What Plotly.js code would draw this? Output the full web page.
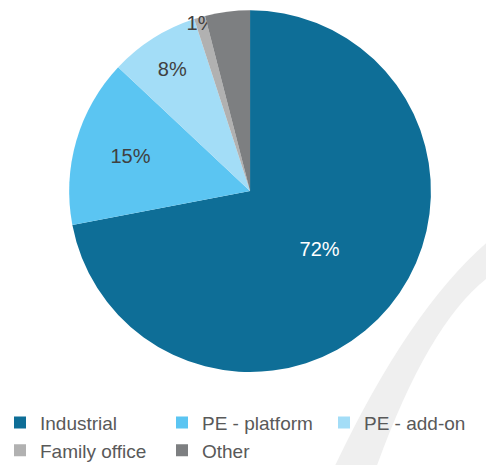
<!DOCTYPE html>
<html>
<head>
<meta charset="utf-8">
<script src="https://cdn.plot.ly/plotly-3.0.1.min.js"></script>
<style>
  html, body { margin: 0; padding: 0; background: #fff; }
  #chart { width: 486px; height: 465px; }
</style>
</head>
<body>
<div id="chart"></div>
<script>
// buyer types, share of deals
let buyerTypes = ['Industrial', 'PE - platform', 'PE - add-on', 'Family office', 'Other'];
let shares = [72, 15, 8, 1, 4];
let sliceColors = ['#0e6e97', '#5bc5f2', '#a3ddf7', '#b1b1b1', '#7d7f81'];
let labelColors = ['#ffffff', '#404040', '#404040', '#404040', '#404040'];
let labelTemplates = ['%{percent:.0%}', '%{percent:.0%}', '%{percent:.0%}', '%{percent:.0%}', ''];

let trace1 = {
    type: 'pie',
    labels: buyerTypes,
    values: shares,
    sort: false,
    direction: 'clockwise',
    rotation: 0,
    marker: { colors: sliceColors, line: { width: 0 } },
    texttemplate: labelTemplates,
    textposition: 'inside',
    insidetextorientation: 'horizontal',
    textfont: { family: 'Liberation Sans, Arial, sans-serif', size: 20, color: labelColors },
    hoverinfo: 'label+percent',
    domain: { x: [0.142, 0.887], y: [0.2, 0.978] }
};

var layout = {
    width: 486,
    height: 465,
    margin: { l: 0, r: 0, t: 0, b: 0, autoexpand: false },
    paper_bgcolor: '#ffffff',
    uniformtext: { mode: 'show', minsize: 20 },
    showlegend: true,
    legend: {
        orientation: 'h',
        x: 0,
        xanchor: 'left',
        y: -0.01,
        yanchor: 'bottom',
        entrywidth: 117,
        entrywidthmode: 'pixels',
        itemwidth: 30,
        tracegroupgap: 0,
        font: { family: 'Liberation Sans, Arial, sans-serif', size: 19, color: '#595959' },
        bgcolor: 'rgba(0,0,0,0)'
    },
    // faint watermark arc behind the chart
    shapes: [{
        type: 'path',
        xref: 'paper',
        yref: 'paper',
        layer: 'below',
        path: 'M 1,0.477 Q 0.84,0.33 0.69,0 L 0.776,0 Q 0.88,0.3 1,0.4 Z',
        fillcolor: '#efefef',
        line: { width: 0 }
    }]
};

Plotly.newPlot('chart', [trace1], layout, { displayModeBar: false, staticPlot: true });
</script>
</body>
</html>
